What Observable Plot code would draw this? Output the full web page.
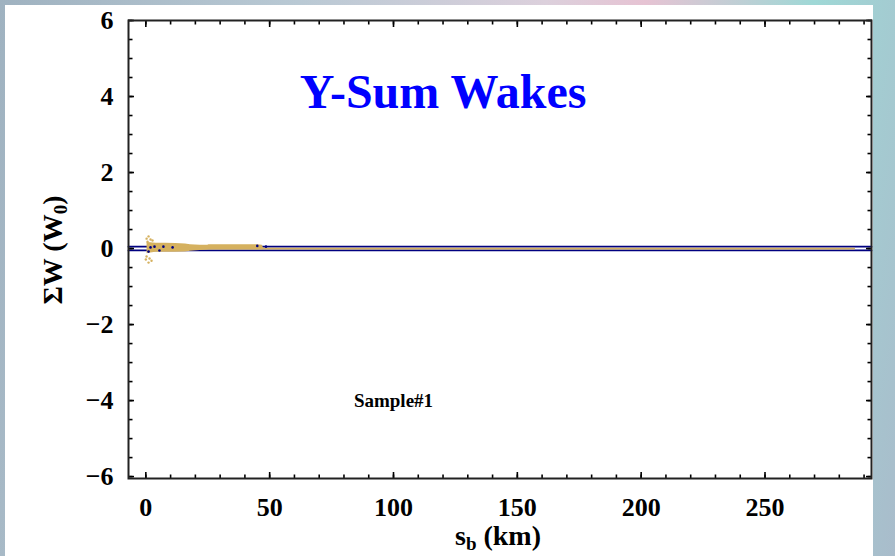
<!DOCTYPE html>
<html><head><meta charset="utf-8">
<script src="https://cdn.jsdelivr.net/npm/d3@7"></script>
<script src="https://cdn.jsdelivr.net/npm/@observablehq/plot@0.6"></script>
<style>
html,body{margin:0;padding:0;width:895px;height:556px;overflow:hidden;}
body{position:relative;background:linear-gradient(100deg,#9fb2c0 0%,#b9c9d4 30%,#dcd0dc 55%,#e6c3d3 65%,#9fd8d6 82%,#a9bccb 100%);}
#panel{position:absolute;left:5px;top:5px;width:868px;height:551px;background:#fff;}
#chart{position:absolute;left:0;top:0;}
</style></head><body><div id="panel"></div><div id="chart"></div>
<script>
// tick values
const xMajorTicks = [0, 50, 100, 150, 200, 250];
const xMinorTicks = [0,10,20,30,40,50,60,70,80,90,100,110,120,130,140,150,160,170,180,190,200,210,220,230,240,250,260,270,280,290];
const yMajorTicks = [-6, -4, -2, 0, 2, 4, 6];
const yMinorTicks = [-6,-5.5,-5,-4.5,-4,-3.5,-3,-2.5,-2,-1.5,-1,-0.5,0,0.5,1,1.5,2,2.5,3,3.5,4,4.5,5,5.5,6];

// navy sum-of-wakes trace (drawn as an upper and lower edge)
const sumX = [-7, 293];
const sumUpper = [0.05, 0.05];
const sumLower = [-0.05, -0.05];
const sumDotX = [1.9, 1.1, 3.5, 5.5, 7.1, 10.8, 45, 48.5];
const sumDotY = [0.03, -0.08, 0.05, -0.05, 0.05, 0.03, 0.07, 0.05];

// tan individual wakes
const wakeLineX = [1, 286];
const wakeLineY = [0, 0];
const wakeEnvX  = [0.5, 2, 4, 8, 12, 16, 18, 22, 25, 25.5, 35, 45, 47, 47.5];
const wakeEnvLo = [-0.14, -0.12, -0.1, -0.1, -0.1, -0.09, -0.07, -0.05, -0.04, -0.03, -0.03, -0.03, -0.03, -0.01];
const wakeEnvHi = [0.16, 0.15, 0.14, 0.14, 0.13, 0.12, 0.1, 0.09, 0.09, 0.1, 0.1, 0.1, 0.09, 0.02];
const wakeDotX = [0.3, 1.1, 1.9, 2.7, 0.7, 0.3, 1.5, 2.3, 1.1, 0.0];
const wakeDotY = [0.26, 0.32, 0.24, 0.21, 0.18, -0.21, -0.26, -0.32, -0.37, -0.29];

// annotations
const titleText = ["Y-Sum Wakes"]; const titleX = [120]; const titleY = [4.1];
const sampleText = ["Sample#1"];   const sampleX = [100]; const sampleY = [-4.0];

const navy = "#000080", tan = "#d5b15f";
const fmt = d => d < 0 ? "\u2212" + Math.abs(d) : String(d);

const chart = Plot.plot({
  width: 895, height: 556,
  marginLeft: 128, marginRight: 24, marginTop: 20, marginBottom: 78,
  style: {background: "transparent", fontFamily: "Liberation Serif", fontWeight: "bold", color: "#000"},
  x: {domain: [-7, 293], label: null},
  y: {domain: [-6.05, 6.0], label: null},
  marks: [
    Plot.line(sumX, {x: sumX, y: sumUpper, stroke: navy, strokeWidth: 1.8}),
    Plot.line(sumX, {x: sumX, y: sumLower, stroke: navy, strokeWidth: 1.8}),
    Plot.areaY(wakeEnvX, {x: wakeEnvX, y1: wakeEnvLo, y2: wakeEnvHi, fill: tan}),
    Plot.line(wakeLineX, {x: wakeLineX, y: wakeLineY, stroke: tan, strokeWidth: 1.8}),
    Plot.dot(wakeDotX, {x: wakeDotX, y: wakeDotY, r: 1.2, fill: tan, stroke: null}),
    Plot.dot(sumDotX, {x: sumDotX, y: sumDotY, r: 1.3, fill: navy, stroke: null}),
    Plot.text(titleText, {x: titleX, y: titleY, text: titleText, fontSize: 48, fill: "#0000ff", fontWeight: "bold"}),
    Plot.text(sampleText, {x: sampleX, y: sampleY, text: sampleText, fontSize: 19, fill: "#000", fontWeight: "bold"}),
    // ticks (inward)
    Plot.axisX(xMinorTicks, {anchor: "bottom", tickSize: -3.5, fill: "none", strokeWidth: 1.6, label: null}),
    Plot.axisX(xMajorTicks, {anchor: "bottom", tickSize: -6, fill: "none", strokeWidth: 1.6, label: null}),
    Plot.axisX(xMinorTicks, {anchor: "top", tickSize: -3.5, fill: "none", strokeWidth: 1.6, label: null}),
    Plot.axisX(xMajorTicks, {anchor: "top", tickSize: -6, fill: "none", strokeWidth: 1.6, label: null}),
    Plot.axisY(yMinorTicks, {anchor: "left", tickSize: -4.5, fill: "none", strokeWidth: 1.6, label: null}),
    Plot.axisY(yMajorTicks, {anchor: "left", tickSize: -6, fill: "none", strokeWidth: 1.6, label: null}),
    Plot.axisY(yMinorTicks, {anchor: "right", tickSize: -4.5, fill: "none", strokeWidth: 1.6, label: null}),
    Plot.axisY(yMajorTicks, {anchor: "right", tickSize: -6, fill: "none", strokeWidth: 1.6, label: null}),
    // tick labels
    Plot.axisX(xMajorTicks, {anchor: "bottom", tickSize: 0, tickPadding: 19.5, fontSize: 26, tickFormat: fmt, label: null}),
    Plot.axisY(yMajorTicks, {anchor: "left", tickSize: 0, tickPadding: 15, fontSize: 26, tickFormat: fmt, label: null}),
    Plot.frame({stroke: "#222", strokeWidth: 2})
  ]
});
document.getElementById("chart").appendChild(chart);

// axis titles with subscripts
const svg = d3.select(chart);
const yl = svg.append("text")
  .attr("transform", "translate(62,250) rotate(-90)")
  .attr("text-anchor", "middle")
  .attr("font-family", "Liberation Serif").attr("font-weight", "bold").attr("font-size", 28).attr("fill", "#000");
yl.append("tspan").text("\u03A3W (W");
yl.append("tspan").attr("font-size", 19).attr("dy", 5).text("0");
yl.append("tspan").attr("dy", -5).text(")");

const xl = svg.append("text")
  .attr("x", 498).attr("y", 545)
  .attr("text-anchor", "middle")
  .attr("font-family", "Liberation Serif").attr("font-weight", "bold").attr("font-size", 28).attr("fill", "#000");
xl.append("tspan").text("s");
xl.append("tspan").attr("font-size", 19).attr("dy", 5).text("b");
xl.append("tspan").attr("dy", -5).text(" (km)");
</script>
</body></html>
